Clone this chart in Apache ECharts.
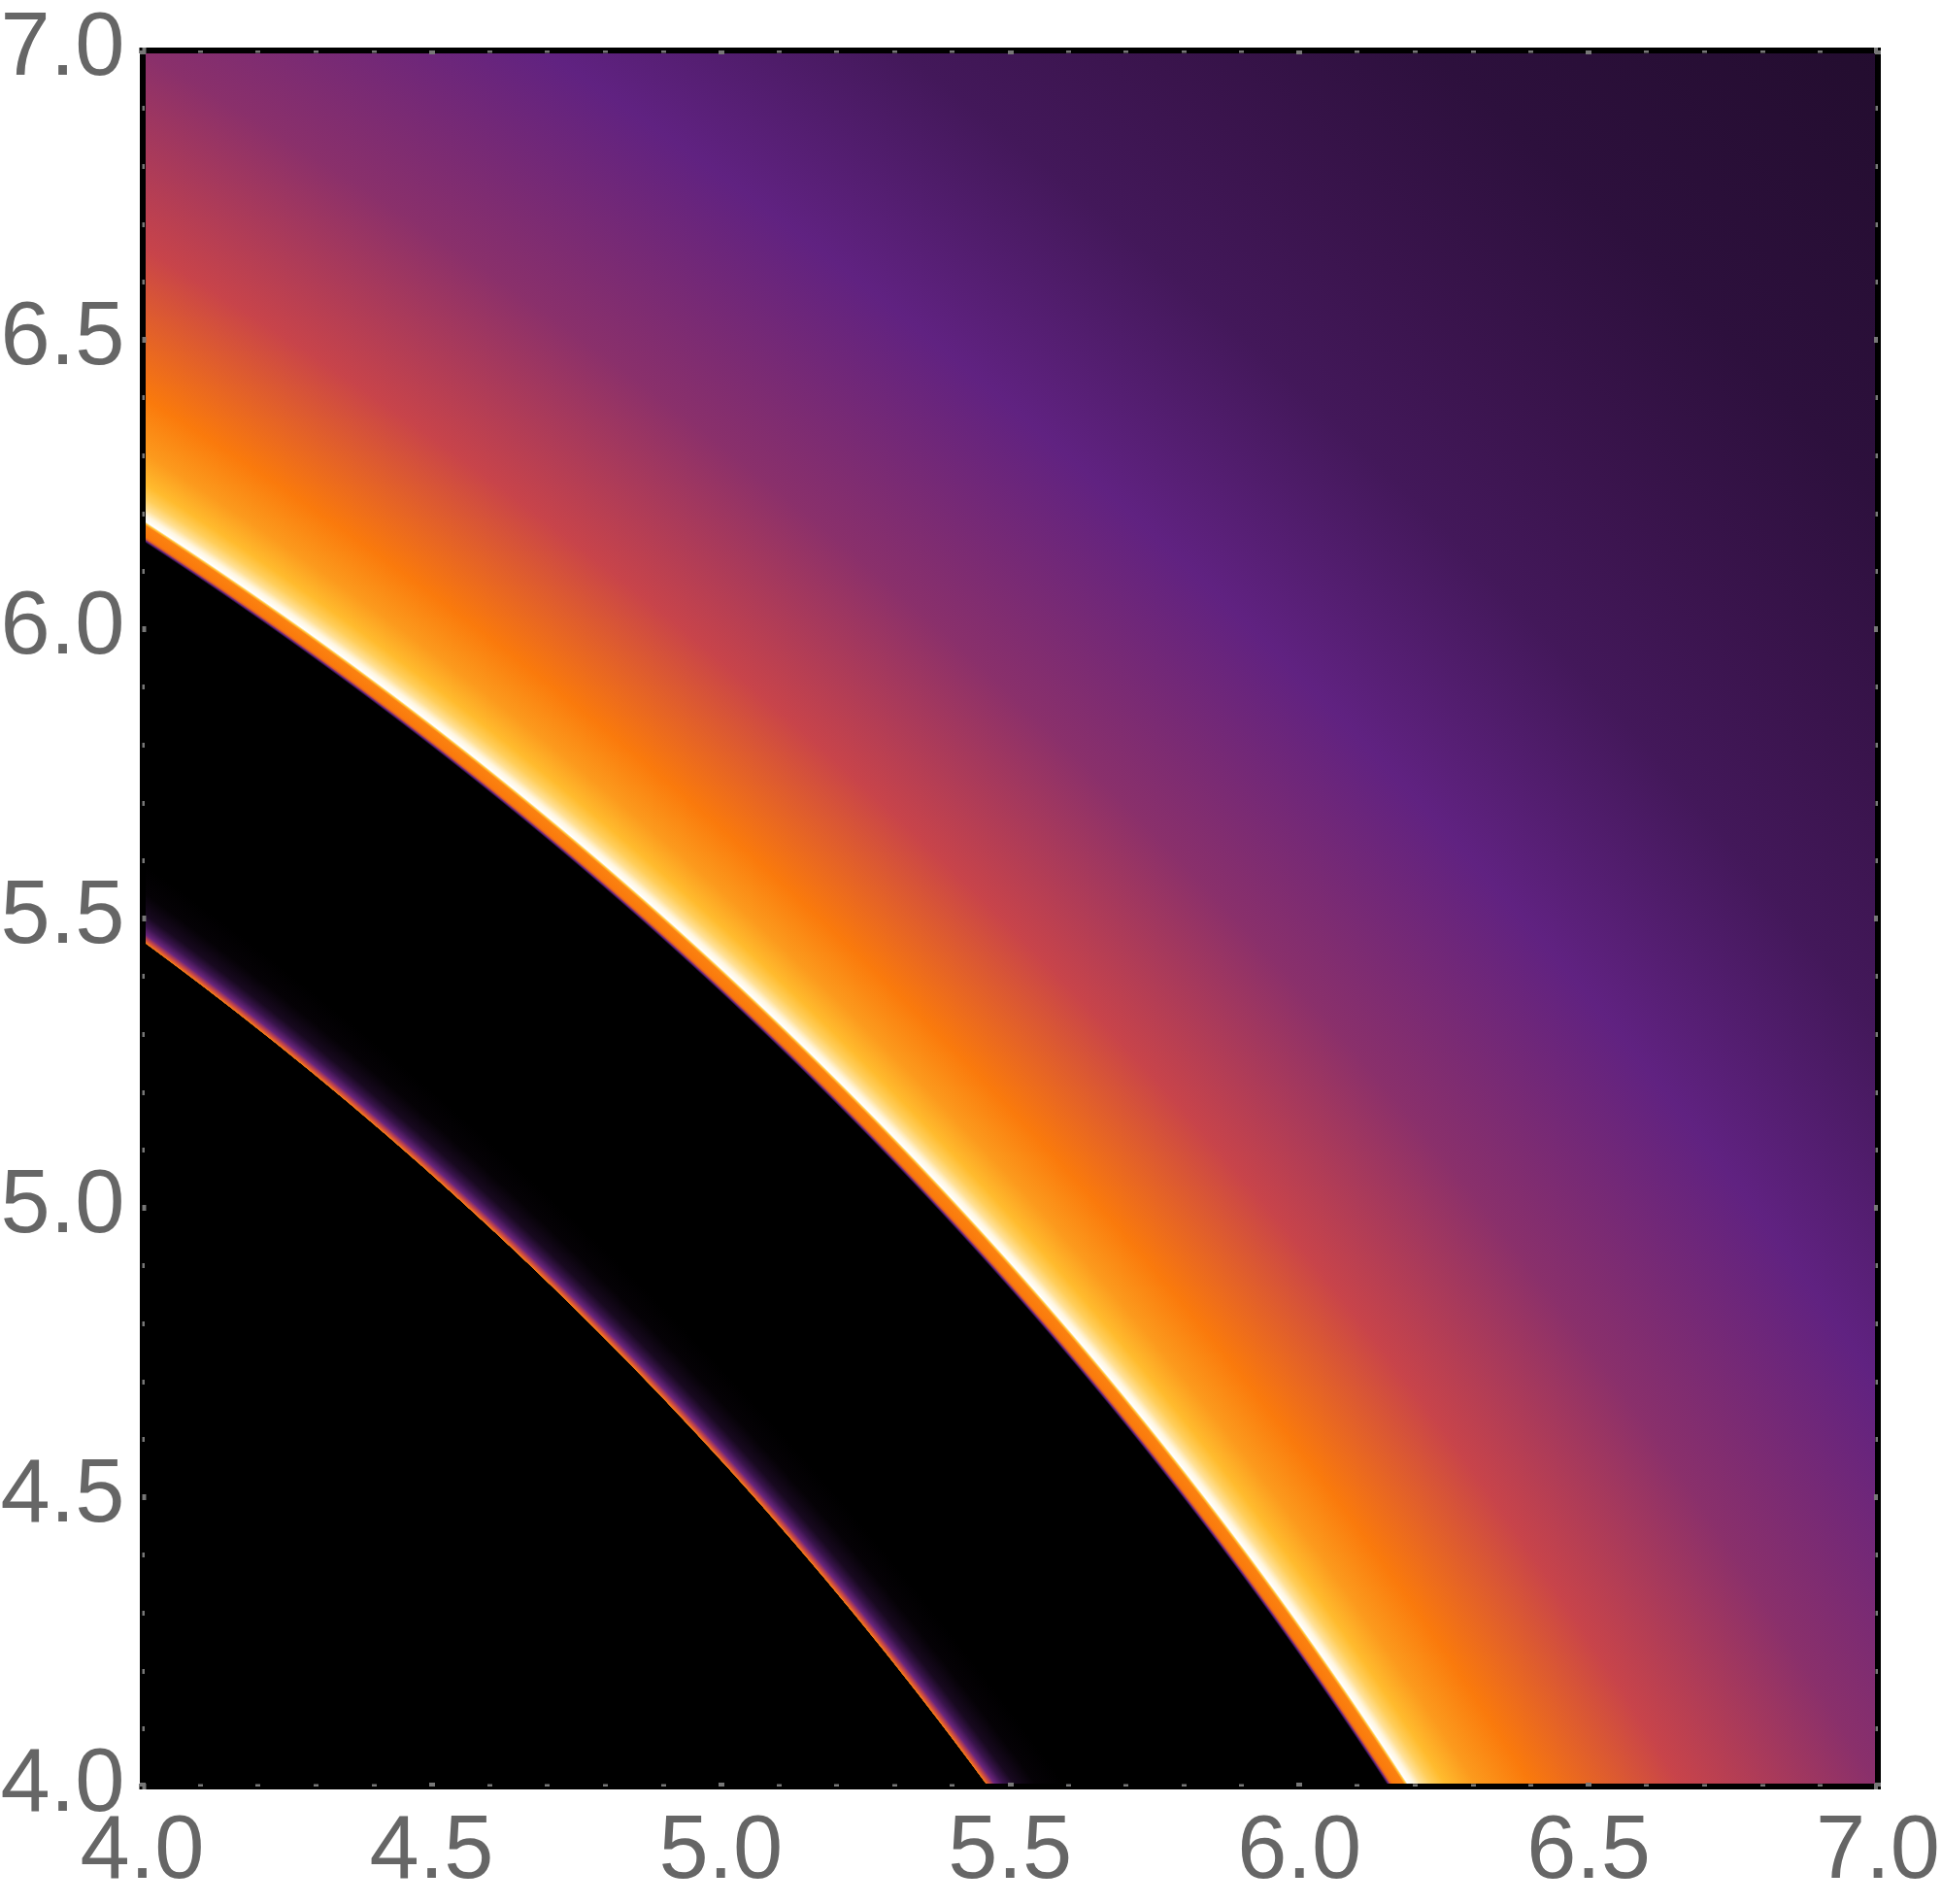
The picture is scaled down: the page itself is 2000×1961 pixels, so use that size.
<!DOCTYPE html>
<html>
<head>
<meta charset="utf-8">
<style>html,body{margin:0;padding:0;background:#fff}#c{width:2000px;height:1961px}</style>
<script src="https://cdn.jsdelivr.net/npm/echarts@6/dist/echarts.min.js"></script>
</head>
<body>
<div id="c"></div>
<script>
// Tick labels shared by both axes
const tickLabels = ['4.0', '4.5', '5.0', '5.5', '6.0', '6.5', '7.0'];

// The bands in the reference are concentric arcs, so one profile describes the field.
const radii = [
  6.7, 6.77, 6.7701, 6.776, 6.783, 6.795, 6.81, 6.84, 6.88,
  7.34, 7.343, 7.346, 7.349, 7.365, 7.368, 7.371, 7.38, 7.39, 7.405, 7.425, 7.47,
  7.55, 7.77, 8.06, 8.43, 8.787, 9.04, 9.37, 9.85, 10
];
const levels = [
  0, 0, 0.62, 0.42, 0.22, 0.12, 0.05, 0.01, 0,
  0, 0.2, 0.5, 0.6, 0.62, 0.8, 1, 0.97, 0.9, 0.84, 0.78, 0.69,
  0.6, 0.4, 0.28, 0.2, 0.14, 0.12, 0.094, 0.075, 0.07
];
// Colour scale from level 0 to level 1
const palette = ['#000000', '#602281', '#c8444a', '#fa7a0c', '#ffc232', '#ffffff'];

const profile = radii.map((r, i) => [r, levels[i], i]).reverse();

function renderDisc(params, api) {
  const i = api.value(2);
  const c = api.coord([0, 0]);
  const scale = api.coord([1, 0])[0] - c[0];
  const R = api.value(0) * scale;
  const inner = i > 0 ? radii[i - 1] / radii[i] : 0;
  const colorOuter = echarts.color.lerp(api.value(1), palette);
  const colorInner = echarts.color.lerp(i > 0 ? levels[i - 1] : 0, palette);
  return {
    type: 'sector',
    shape: { cx: c[0], cy: c[1], r0: 0, r: R, startAngle: -Math.PI / 2, endAngle: 0, clockwise: true },
    style: {
      fill: new echarts.graphic.RadialGradient(c[0], c[1], R, [
        { offset: 0, color: colorInner },
        { offset: inner, color: colorInner },
        { offset: 1, color: colorOuter }
      ], true)
    }
  };
}

const labelStyle = { fontFamily: 'Liberation Sans', fontSize: 92, color: '#666666' };
const frame = { show: true, lineStyle: { color: '#000000', width: 6, cap: 'square' } };
const major = { show: true, inside: true, length: 4, lineStyle: { color: '#777777', width: 6 } };
const minor = { show: true, splitNumber: 5, length: 2.5, lineStyle: { color: '#777777', width: 5 } };
const fmt = v => tickLabels[Math.round((v - 4) / 0.5)];

function axis(position, labelled, margin) {
  return {
    type: 'value', position, min: 4, max: 7, interval: 0.5, z: 5,
    axisLine: Object.assign({ onZero: false }, frame),
    axisTick: major, minorTick: minor, splitLine: { show: false }, minorSplitLine: { show: false },
    axisLabel: Object.assign({ show: labelled, margin, formatter: fmt, showMinLabel: true, showMaxLabel: true, hideOverlap: false }, labelStyle)
  };
}

const chart = echarts.init(document.getElementById('c'), null, { renderer: 'canvas', width: 2000, height: 1961 });
chart.setOption({
  animation: false,
  backgroundColor: '#ffffff',
  grid: { left: 146.5, top: 52, width: 1787.5, height: 1788, outerBoundsMode: 'none' },
  xAxis: [axis('bottom', true, 23), axis('top', false, 0)],
  yAxis: [axis('left', true, 18), axis('right', false, 0)],
  series: [{
    type: 'custom',
    coordinateSystem: 'cartesian2d',
    xAxisIndex: 0, yAxisIndex: 0,
    clip: true,
    silent: true,
    dimensions: ['radius', 'level', 'index'],
    encode: { x: 0, y: 1 },
    renderItem: renderDisc,
    data: profile
  }]
});
</script>
</body>
</html>
